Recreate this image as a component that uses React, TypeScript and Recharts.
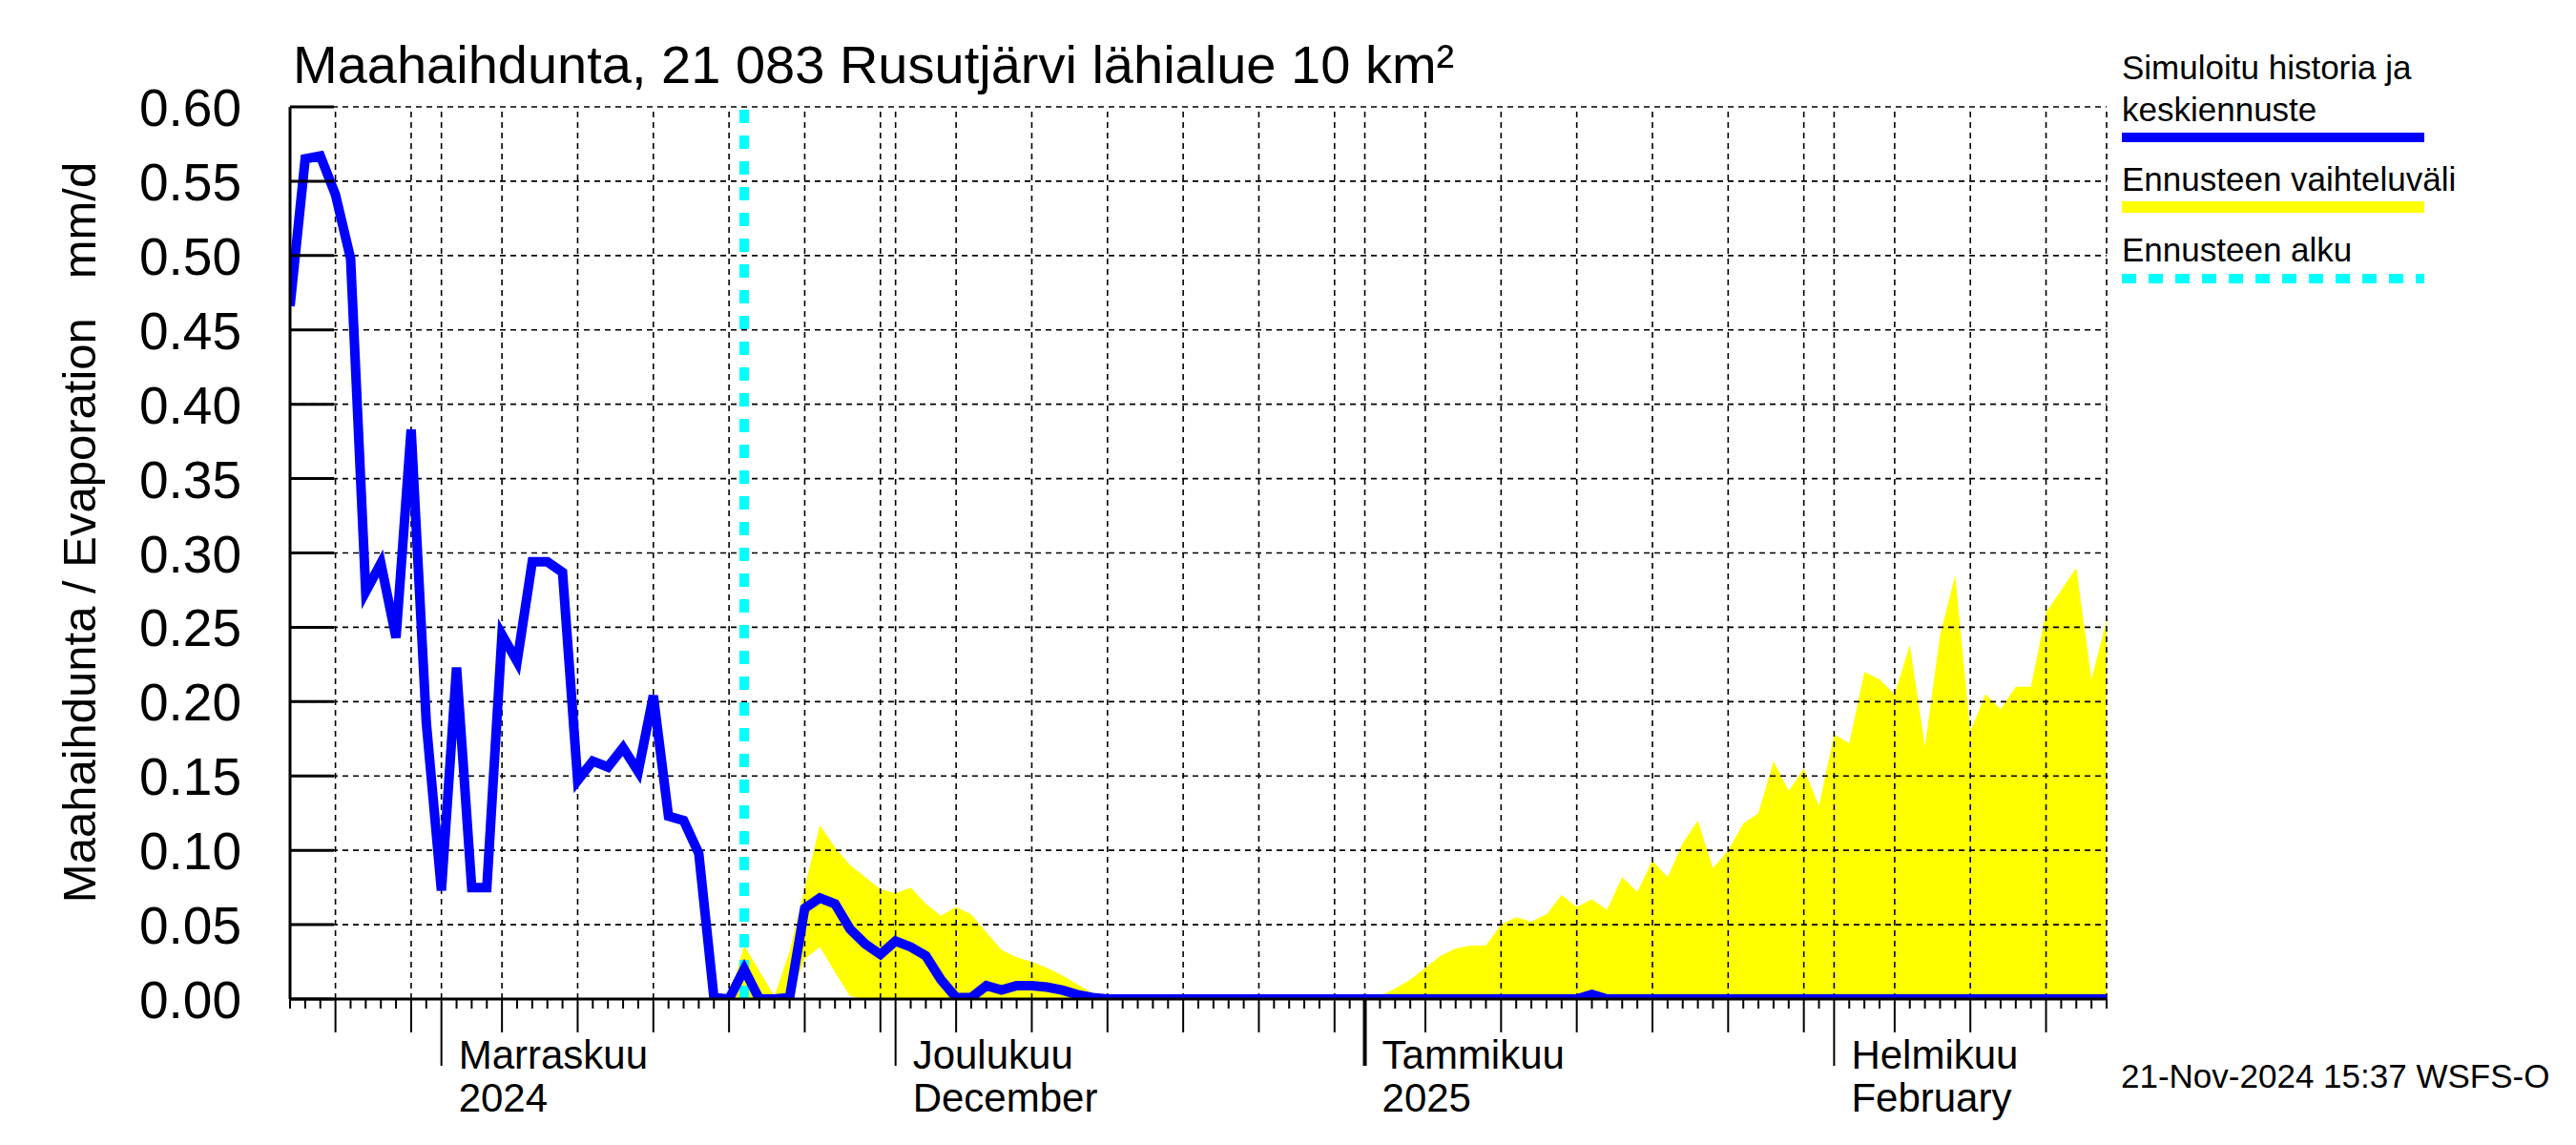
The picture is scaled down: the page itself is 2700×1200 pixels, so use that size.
import React from 'react';
import { ComposedChart, Line, Area, XAxis, YAxis, ReferenceLine } from 'recharts';

const FONT = '"Liberation Sans", Arial, Helvetica, sans-serif';

// Day index 0 = 22 Oct 2024, axis runs to day 120 = 19 Feb 2025
const startDate = '2024-10-22';
const forecastStartDay = 30; // 21 Nov 2024
const lastDay = 120;

// Simulated history, days 0..30
const simulatedHistory = [
  0.466, 0.565, 0.567, 0.541, 0.498, 0.274, 0.293, 0.243, 0.383, 0.186,
  0.073, 0.223, 0.075, 0.075, 0.245, 0.227, 0.294, 0.294, 0.287, 0.147,
  0.160, 0.156, 0.169, 0.153, 0.204, 0.123, 0.120, 0.098, 0.001, 0.000,
  0.020,
];

// Forecast mean, days 31..120
const forecastMean = [
  0.000, 0.000, 0.001, 0.061, 0.068, 0.064, 0.047, 0.037, 0.030, 0.039,
  0.035, 0.029, 0.013, 0.001, 0.001, 0.009, 0.006, 0.009, 0.009, 0.008,
  0.006, 0.003, 0.001, 0.000, 0.000, 0.000, 0.000, 0.000, 0.000, 0.000,
  0.000, 0.000, 0.000, 0.000, 0.000, 0.000, 0.000, 0.000, 0.000, 0.000,
  0.000, 0.000, 0.000, 0.000, 0.000, 0.000, 0.000, 0.000, 0.000, 0.000,
  0.000, 0.000, 0.000, 0.000, 0.000, 0.003, 0.000, 0.000, 0.000, 0.000,
  0.000, 0.000, 0.000, 0.000, 0.000, 0.000, 0.000, 0.000, 0.000, 0.000,
  0.000, 0.000, 0.000, 0.000, 0.000, 0.000, 0.000, 0.000, 0.000, 0.000,
  0.000, 0.000, 0.000, 0.000, 0.000, 0.000, 0.000, 0.000, 0.000, 0.000,
];

// Forecast range, days 29..120
const rangeStartDay = 29;
const rangeLow = [
  0.000, 0.000, 0.000, 0.000, 0.000, 0.027, 0.035, 0.018, 0.002, 0.000,
  0.000, 0.000, 0.000, 0.000, 0.000, 0.000, 0.000, 0.000, 0.000, 0.000,
  0.000, 0.000, 0.000, 0.000, 0.000, 0.000, 0.000, 0.000, 0.000, 0.000,
  0.000, 0.000, 0.000, 0.000, 0.000, 0.000, 0.000, 0.000, 0.000, 0.000,
  0.000, 0.000, 0.000, 0.000, 0.000, 0.000, 0.000, 0.000, 0.000, 0.000,
  0.000, 0.000, 0.000, 0.000, 0.000, 0.000, 0.000, 0.000, 0.000, 0.000,
  0.000, 0.000, 0.000, 0.000, 0.000, 0.000, 0.000, 0.000, 0.000, 0.000,
  0.000, 0.000, 0.000, 0.000, 0.000, 0.000, 0.000, 0.000, 0.000, 0.000,
  0.000, 0.000, 0.000, 0.000, 0.000, 0.000, 0.000, 0.000, 0.000, 0.000,
  0.000, 0.000,
];
const rangeHigh = [
  0.000, 0.036, 0.019, 0.002, 0.032, 0.075, 0.117, 0.102, 0.090, 0.082,
  0.074, 0.071, 0.075, 0.064, 0.056, 0.062, 0.057, 0.045, 0.033, 0.028,
  0.025, 0.021, 0.016, 0.010, 0.004, 0.001, 0.000, 0.000, 0.000, 0.000,
  0.000, 0.000, 0.000, 0.000, 0.000, 0.000, 0.000, 0.000, 0.000, 0.000,
  0.000, 0.000, 0.000, 0.002, 0.007, 0.013, 0.021, 0.029, 0.034, 0.036,
  0.036, 0.050, 0.055, 0.052, 0.057, 0.070, 0.062, 0.067, 0.060, 0.082,
  0.072, 0.093, 0.082, 0.105, 0.120, 0.088, 0.100, 0.118, 0.125, 0.160,
  0.140, 0.155, 0.130, 0.178, 0.172, 0.220, 0.215, 0.205, 0.238, 0.170,
  0.245, 0.285, 0.180, 0.205, 0.195, 0.210, 0.210, 0.260, 0.275, 0.290,
  0.215, 0.255,
];

const yTicks = [0, 0.05, 0.1, 0.15, 0.2, 0.25, 0.3, 0.35, 0.4, 0.45, 0.5, 0.55, 0.6];
// Days 1, 5, 10, 15, 20, 25, 30 of each month
const gridDays = [3, 8, 10, 14, 19, 24, 29, 34, 39, 40, 44, 49, 54, 59, 64, 69, 71, 75, 80, 85, 90, 95, 100, 102, 106, 111, 116];
const monthStartDays = [10, 40, 71, 102];
const monthLabelTop = ['Marraskuu', 'Joulukuu', 'Tammikuu', 'Helmikuu'];
const monthLabelBottom = ['2024', 'December', '2025', 'February'];
const yearStartDay = 71;

const titleText = 'Maahaihdunta, 21 083 Rusutjärvi lähialue 10 km²';
const yLabelText = 'Maahaihdunta / Evaporation   mm/d';
const legendHistory = ['Simuloitu historia ja', 'keskiennuste'];
const legendRange = 'Ennusteen vaihteluväli';
const legendStart = 'Ennusteen alku';
const stampText = '21-Nov-2024 15:37 WSFS-O';

const meanSeries = [...simulatedHistory, ...forecastMean];
const chartData = meanSeries.map((v, day) => {
  const r = day - rangeStartDay;
  return {
    day,
    date: startDate,
    mean: v,
    range: r >= 0 ? [rangeLow[r], rangeHigh[r]] : null,
  };
});
const xTicks = chartData.map((d) => d.day);

const YTick = (props: any) => {
  const { x, y, payload } = props;
  return (
    <g>
      <line x1={x} x2={x + 46} y1={y} y2={y} stroke="#000" strokeWidth={3} />
      <text x={x - 51} y={y + 20} textAnchor="end" fontSize={55} fontFamily={FONT} fill="#000">
        {Number(payload.value).toFixed(2)}
      </text>
    </g>
  );
};

const XTick = (props: any) => {
  const { x, y, payload } = props;
  const day = payload.value;
  const m = monthStartDays.indexOf(day);
  const len = m >= 0 ? 70 : gridDays.includes(day) ? 35 : 10;
  const sw = day === yearStartDay ? 4 : 2;
  return (
    <g>
      <line x1={x} x2={x} y1={y} y2={y + len} stroke="#000" strokeWidth={sw} />
      {m >= 0 && (
        <>
          <text x={x + 18} y={y + 73} fontSize={42} fontFamily={FONT} fill="#000">{monthLabelTop[m]}</text>
          <text x={x + 18} y={y + 118} fontSize={42} fontFamily={FONT} fill="#000">{monthLabelBottom[m]}</text>
        </>
      )}
    </g>
  );
};

export default function App() {
  return (
    <div style={{ position: 'absolute', left: 0, top: 0, width: 2700, height: 1200, background: '#fff' }}>
      <ComposedChart
        width={2700}
        height={1200}
        data={chartData}
        margin={{ top: 112, right: 492, bottom: 0, left: 0 }}
      >
        <XAxis
          dataKey="day"
          type="number"
          domain={[0, lastDay]}
          ticks={xTicks}
          interval={0}
          tick={<XTick />}
          tickLine={false}
          tickSize={0}
          tickMargin={0}
          height={153}
          axisLine={{ stroke: '#000', strokeWidth: 3 }}
          allowDataOverflow
        />
        <YAxis
          type="number"
          domain={[0, 0.6]}
          ticks={yTicks}
          interval={0}
          tick={<YTick />}
          tickLine={false}
          tickSize={0}
          tickMargin={0}
          width={304}
          axisLine={{ stroke: '#000', strokeWidth: 3 }}
          allowDataOverflow
        />
        <Area
          dataKey="range"
          type="linear"
          stroke="none"
          fill="#ffff00"
          fillOpacity={1}
          isAnimationActive={false}
          dot={false}
          activeDot={false}
        />
        {yTicks.filter((v) => v > 0).map((v) => (
          <ReferenceLine key={'h' + v} y={v} stroke="#000" strokeWidth={1.6} strokeDasharray="6 5" />
        ))}
        {gridDays.map((d) => (
          <ReferenceLine key={'v' + d} x={d} stroke="#000" strokeWidth={1.6} strokeDasharray="6 5" />
        ))}
        <ReferenceLine x={lastDay} stroke="#000" strokeWidth={1.6} strokeDasharray="6 5" />
        <ReferenceLine x={forecastStartDay} stroke="#00ffff" strokeWidth={10} strokeDasharray="14 13" />
        <Line
          dataKey="mean"
          type="linear"
          stroke="#0000ff"
          strokeWidth={10}
          dot={false}
          activeDot={false}
          isAnimationActive={false}
        />
      </ComposedChart>
      <svg
        width={2700}
        height={1200}
        style={{ position: 'absolute', left: 0, top: 0, pointerEvents: 'none' }}
        fontFamily={FONT}
      >
        <text x={307} y={87} fontSize={56} fill="#000">{titleText}</text>
        <text
          transform="translate(100,558) rotate(-90)"
          textAnchor="middle"
          fontSize={49}
          fill="#000"
          style={{ whiteSpace: 'pre' }}
        >
          {yLabelText}
        </text>
        <text x={2224} y={83} fontSize={35} fill="#000">{legendHistory[0]}</text>
        <text x={2224} y={127} fontSize={35} fill="#000">{legendHistory[1]}</text>
        <line x1={2224} x2={2541} y1={144} y2={144} stroke="#0000ff" strokeWidth={10} />
        <text x={2224} y={200} fontSize={35} fill="#000">{legendRange}</text>
        <line x1={2224} x2={2541} y1={217} y2={217} stroke="#ffff00" strokeWidth={12} />
        <text x={2224} y={274} fontSize={35} fill="#000">{legendStart}</text>
        <line x1={2224} x2={2541} y1={292} y2={292} stroke="#00ffff" strokeWidth={10} strokeDasharray="15 13" />
        <text x={2223} y={1140} fontSize={35} fill="#000">{stampText}</text>
      </svg>
    </div>
  );
}
